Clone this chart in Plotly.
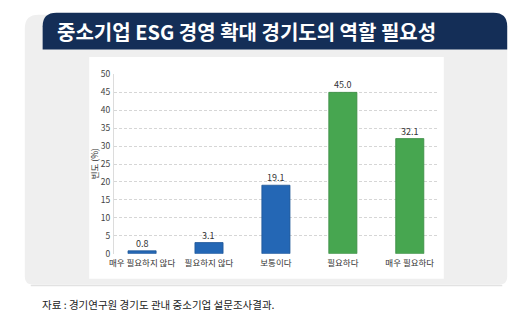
import plotly.graph_objects as go

# Survey result: need for Gyeonggi-do's role in expanding SME ESG management
categories = ["매우 필요하지 않다", "필요하지 않다", "보통이다", "필요하다", "매우 필요하다"]
values = [0.8, 3.1, 19.1, 45.0, 32.1]
bar_colors = ["#2467b5", "#2467b5", "#2467b5", "#47a650", "#47a650"]
edge_colors = ["#1d5597", "#1d5597", "#1d5597", "#3a8c43", "#3a8c43"]
y_ticks = [0, 5, 10, 15, 20, 25, 30, 35, 40, 45, 50]

title_text = "중소기업 ESG 경영 확대 경기도의 역할 필요성"
y_title = "빈도 (%)"
source_text = "자료 : 경기연구원 경기도 관내 중소기업 설문조사결과."

W, H = 530, 330


def fx(px):
    return px / W


def fy(py):
    return 1 - py / H


def rounded_rect(x0, y0, x1, y1, r_tl, r_tr, r_br, r_bl):
    """SVG path in paper coordinates for a rectangle given in pixels."""
    pts = [
        f"M {fx(x0 + r_tl)} {fy(y0)}",
        f"L {fx(x1 - r_tr)} {fy(y0)}",
        f"Q {fx(x1)} {fy(y0)} {fx(x1)} {fy(y0 + r_tr)}",
        f"L {fx(x1)} {fy(y1 - r_br)}",
        f"Q {fx(x1)} {fy(y1)} {fx(x1 - r_br)} {fy(y1)}",
        f"L {fx(x0 + r_bl)} {fy(y1)}",
        f"Q {fx(x0)} {fy(y1)} {fx(x0)} {fy(y1 - r_bl)}",
        f"L {fx(x0)} {fy(y0 + r_tl)}",
        f"Q {fx(x0)} {fy(y0)} {fx(x0 + r_tl)} {fy(y0)}",
        "Z",
    ]
    return " ".join(pts)


fig = go.Figure()

fig.add_trace(
    go.Bar(
        x=categories,
        y=values,
        width=0.42,
        marker=dict(color=bar_colors, line=dict(color=edge_colors, width=0.8)),
        hoverinfo="skip",
    )
)

shapes = [
    # light gray card
    dict(type="path", xref="paper", yref="paper", layer="below",
         path=rounded_rect(20, 8, 507, 288, 14, 14, 8, 8),
         fillcolor="#efefef", line=dict(width=0)),
    # faint shadow along the card's bottom
    dict(type="line", xref="paper", yref="paper", layer="below",
         x0=fx(26), x1=fx(502), y0=fy(289), y1=fy(289),
         line=dict(color="#e2e2e2", width=1.5)),
    # navy title banner
    dict(type="path", xref="paper", yref="paper", layer="below",
         path=rounded_rect(38, 6, 507, 44, 14, 14, 0, 0),
         fillcolor="#142e57", line=dict(width=0)),
    # white chart panel
    dict(type="rect", xref="paper", yref="paper", layer="below",
         x0=fx(85), x1=fx(443), y0=fy(282), y1=fy(52),
         fillcolor="#ffffff", line=dict(width=0)),
]

annotations = [
    dict(text=title_text, xref="paper", yref="paper", x=fx(50), y=fy(25),
         xanchor="left", yanchor="middle", showarrow=False,
         font=dict(family="Noto Sans CJK KR", size=20, color="#ffffff", weight="bold")),
    dict(text=y_title, xref="paper", yref="paper", x=fx(90), y=fy(163),
         xanchor="center", yanchor="middle", showarrow=False, textangle=-90,
         font=dict(family="Noto Sans CJK KR", size=8.5, color="#333333")),
    dict(text=source_text, xref="paper", yref="paper", x=fx(35), y=fy(309),
         xanchor="left", yanchor="middle", showarrow=False,
         font=dict(family="Noto Sans CJK KR", size=10.5, color="#222222")),
]

# value labels sitting just above each bar
for cat, v in zip(categories, values):
    annotations.append(
        dict(text=f"{v:.1f}", x=cat, y=v, xref="x", yref="y",
             xanchor="center", yanchor="bottom", showarrow=False, yshift=-1,
             font=dict(family="Noto Sans CJK KR", size=9, color="#333333"))
    )

fig.update_layout(
    width=W,
    height=H,
    margin=dict(l=0, r=0, t=0, b=0),
    paper_bgcolor="#ffffff",
    plot_bgcolor="rgba(0,0,0,0)",
    showlegend=False,
    shapes=shapes,
    annotations=annotations,
    xaxis=dict(
        domain=[fx(110), fx(437)],
        range=[-0.42, 4.42],
        showgrid=False,
        zeroline=False,
        showline=False,
        ticks="",
        tickfont=dict(family="Noto Sans CJK KR", size=8.5, color="#333333"),
        ticklabelstandoff=3,
    ),
    yaxis=dict(
        domain=[fy(256), fy(70)],
        range=[0, 50],
        tickvals=y_ticks,
        showgrid=True,
        gridcolor="#d6d6d6",
        griddash="3px,2px",
        gridwidth=0.8,
        zeroline=False,
        showline=True,
        linecolor="#dcdcdc",
        linewidth=1,
        ticks="",
        tickfont=dict(family="Noto Sans CJK KR", size=8.5, color="#444444"),
        ticklabelstandoff=1,
    ),
)

fig.write_html("out.html")
